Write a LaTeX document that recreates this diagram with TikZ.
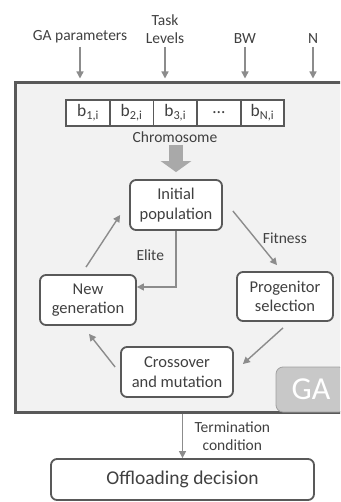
\documentclass[tikz,border=0pt]{standalone}
\usepackage{fontspec}
\setmainfont{Carlito}
\usetikzlibrary{arrows.meta}
\definecolor{frame}{HTML}{595959}
\definecolor{arr}{HTML}{8C8C8C}
\definecolor{txt}{HTML}{404040}
\definecolor{back}{HTML}{F2F2F2}
\definecolor{tag}{HTML}{C8C8C8}
\tikzset{
	stage/.style={draw=frame, line width=1.8pt, rounded corners=6pt, fill=white,
		align=center, text=txt, font=\fontsize{16.5}{19.5}\selectfont, inner sep=2pt},
	gene/.style={draw=frame, line width=1.8pt, fill=white, minimum width=43.6pt,
		minimum height=26pt, inner sep=0pt, text=txt, font=\fontsize{17.5}{19}\selectfont},
	lbl/.style={text=txt, align=center, font=\fontsize{15.5}{18}\selectfont},
	flow/.style={draw=arr, line width=1.4pt, -{Triangle[length=7pt,width=7pt]}}
}
\begin{document}
\begin{tikzpicture}[x=1pt,y=-1pt]
	\useasboundingbox (0,0) rectangle (340,502);
	\clip (0,0) rectangle (340,502);
	% GA frame
	\node[draw=frame, fill=back, line width=3pt, minimum width=335pt,
		minimum height=329pt, inner sep=0pt] (ga) at (182.5,247.5) {};
	\node[draw=tag!80!black, fill=tag, rounded corners=7pt, line width=0.8pt,
		minimum width=70pt, minimum height=45pt, text=white,
		font=\fontsize{32}{34}\selectfont] (galbl) at (311,389.5) {GA};
	% inputs
	\node[lbl, anchor=south] (gapar) at (80,47) {GA parameters};
	\node[lbl, anchor=south] (task) at (165,47) {Task\\Levels};
	\node[lbl, anchor=south] (bw) at (245,47) {BW};
	\node[lbl, anchor=south] (nn) at (313,47) {N};
	\foreach \src in {gapar,task,bw,nn}
		\draw[flow, shorten >=3pt] (\src.south) -- (\src.south |- ga.north);
	% chromosome
	\foreach \lab [count=\k] in {b\textsubscript{1,i},b\textsubscript{2,i},
		b\textsubscript{3,i},\dots,b\textsubscript{N,i}}
		\node[gene] (g\k) at (44.4+43.6*\k,113) {\lab};
	\node[lbl] (chrom) at (175,137) {Chromosome};
	% stages
	\node[stage, minimum width=92pt, minimum height=50pt] (init) at (176,205)
		{Initial\\population};
	\node[stage, minimum width=96pt, minimum height=49pt] (prog) at (285,296.5)
		{Progenitor\\selection};
	\node[stage, minimum width=96pt, minimum height=50pt] (newgen) at (88,300)
		{New\\generation};
	\node[stage, minimum width=112pt, minimum height=50pt] (cross) at (177,372)
		{Crossover\\and mutation};
	\node[stage, minimum width=263pt, minimum height=41pt,
		font=\fontsize{19.5}{22}\selectfont] (offload) at (182.5,479.5)
		{Offloading decision};
	% flows
	\coordinate (drop) at (176,145);
	\draw[draw=arr!75, line width=14pt, shorten >=7pt,
		-{Triangle[length=11pt,width=30pt]}] (drop) -- (init.north);
	\draw[flow] ([shift={(10,6)}]init.east) -- ([shift={(-8,-6)}]prog.north)
		node[lbl, pos=0.5, right=4pt] {Fitness};
	\draw[flow] (init.south) |- ([shift={(0,-13)}]newgen.east)
		node[lbl, pos=0.22, left=8pt] {Elite};
	\draw[flow] ([shift={(-2,-7)}]newgen.north) -- ([shift={(-9,10)}]init.west);
	\draw[flow] ([shift={(-2,6)}]prog.south) -- ([shift={(9,-8)}]cross.east);
	\draw[flow] ([shift={(-5,-5)}]cross.west) -- ([shift={(1,8)}]newgen.south);
	\draw[flow] (ga.south) -- (offload.north)
		node[lbl, midway, right=8pt] {Termination\\condition};
\end{tikzpicture}
\end{document}
